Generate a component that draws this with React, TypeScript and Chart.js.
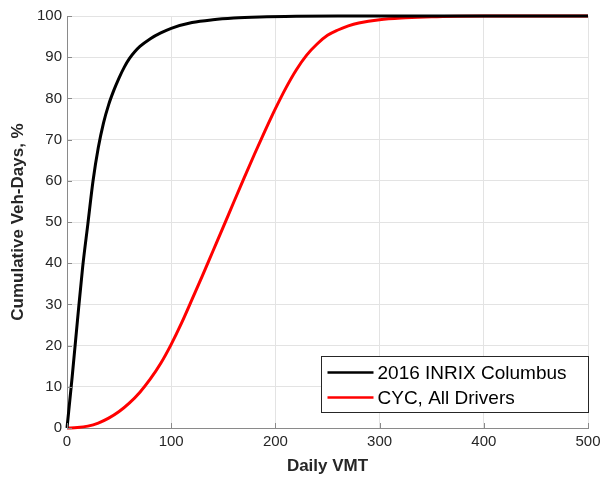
import React, { useEffect, useRef } from "react";
import { Chart, registerables } from "chart.js";

Chart.register(...registerables);

// ---- Data ----
const inrixX = [0, 5, 10, 15, 20, 25, 30, 35, 40, 45, 50, 55, 60, 65, 70, 80, 90, 100, 120, 140, 160, 185, 220, 260, 350, 500];
const inrixY = [0, 12.5, 26, 39, 49.5, 60, 68, 74, 78.5, 82, 85, 87.6, 89.7, 91.3, 92.6, 94.5, 95.9, 97, 98.4, 99.1, 99.5, 99.75, 99.92, 100, 100, 100];

const cycX = [0, 10, 20, 30, 40, 50, 60, 70, 80, 90, 100, 110, 120, 130, 140, 150, 160, 170, 180, 190, 200, 210, 220, 230, 240, 250, 260, 270, 280, 300, 325, 350, 375, 400, 450, 500];
const cycY = [0, 0.1, 0.45, 1.2, 2.4, 4, 6.1, 8.7, 11.9, 15.7, 20.3, 25.5, 31.2, 37, 42.9, 48.8, 54.8, 60.7, 66.5, 72.1, 77.5, 82.5, 86.9, 90.5, 93.2, 95.3, 96.6, 97.6, 98.3, 99.1, 99.55, 99.82, 99.95, 100, 100, 100];

const xTicks = [0, 100, 200, 300, 400, 500];
const yTicks = [0, 10, 20, 30, 40, 50, 60, 70, 80, 90, 100];

const seriesLabels = ["2016 INRIX Columbus", "CYC, All Drivers"];
const seriesColors = ["#000000", "#ff0000"];
const xTitle = "Daily VMT";
const yTitle = "Cumulative Veh-Days, %";

const FONT = "'Liberation Sans', Arial, Helvetica, sans-serif";
const TEXT = "#262626";
const AXIS = "#8a8a8a";
const GRID = "#e3e3e3";

const toPoints = (xs: number[], ys: number[]) => xs.map((x, i) => ({ x, y: ys[i] }));

const decorPlugin = {
  id: "decor",
  afterDatasetsDraw(chart: any) {
    const { ctx, chartArea, scales } = chart;
    const xs = scales.x;
    const ys = scales.y;
    ctx.save();
    // inward ticks
    ctx.strokeStyle = AXIS;
    ctx.lineWidth = 1;
    const tl = 5;
    ctx.beginPath();
    for (const v of xTicks) {
      const px = Math.round(xs.getPixelForValue(v)) + 0.5;
      ctx.moveTo(px, chartArea.bottom);
      ctx.lineTo(px, chartArea.bottom - tl);
    }
    for (const v of yTicks) {
      const py = Math.round(ys.getPixelForValue(v)) + 0.5;
      ctx.moveTo(chartArea.left, py);
      ctx.lineTo(chartArea.left + tl, py);
    }
    ctx.stroke();

    // legend
    const boxRight = chartArea.right;
    const boxW = 267;
    const boxH = 56;
    const boxBottom = chartArea.bottom - 16;
    const bx = Math.round(boxRight - boxW) + 0.5;
    const by = Math.round(boxBottom - boxH) + 0.5;
    ctx.fillStyle = "#ffffff";
    ctx.fillRect(bx, by, boxW, boxH);
    ctx.strokeStyle = TEXT;
    ctx.lineWidth = 1;
    ctx.strokeRect(bx, by, boxW, boxH);
    ctx.font = `19px ${FONT}`;
    ctx.textBaseline = "middle";
    ctx.textAlign = "left";
    seriesLabels.forEach((label, i) => {
      const cy = by + 16 + i * 25;
      ctx.strokeStyle = seriesColors[i];
      ctx.lineWidth = 2.5;
      ctx.beginPath();
      ctx.moveTo(bx + 6, cy);
      ctx.lineTo(bx + 52, cy);
      ctx.stroke();
      ctx.fillStyle = "#000000";
      ctx.fillText(label, bx + 56, cy + 1);
    });
    ctx.restore();
  },
};

export default function App() {
  const ref = useRef<HTMLCanvasElement | null>(null);

  useEffect(() => {
    if (!ref.current) return;
    const chart = new Chart(ref.current, {
      type: "line",
      data: {
        datasets: [
          {
            label: seriesLabels[0],
            data: toPoints(inrixX, inrixY),
            borderColor: seriesColors[0],
            borderWidth: 3,
            pointRadius: 0,
            cubicInterpolationMode: "monotone",
            clip: false,
          },
          {
            label: seriesLabels[1],
            data: toPoints(cycX, cycY),
            borderColor: seriesColors[1],
            borderWidth: 3,
            pointRadius: 0,
            cubicInterpolationMode: "monotone",
            clip: false,
          },
        ] as any,
      },
      options: {
        responsive: false,
        animation: false,
        devicePixelRatio: 1,
        layout: { padding: { left: 0, top: 16, right: 12, bottom: 0 } },
        plugins: {
          legend: { display: false },
          tooltip: { enabled: false },
        },
        scales: {
          x: {
            type: "linear",
            min: 0,
            max: 500,
            afterBuildTicks: (s: any) => {
              s.ticks = xTicks.map((v) => ({ value: v }));
            },
            afterFit: (s: any) => {
              s.height = 53;
              s.paddingLeft = 0;
              s.paddingRight = 0;
            },
            grid: { color: GRID, drawTicks: false },
            border: { display: true, color: AXIS, width: 1 },
            ticks: { color: TEXT, font: { family: FONT, size: 15 }, padding: 5, maxRotation: 0 },
            title: {
              display: true,
              text: xTitle,
              color: TEXT,
              font: { family: FONT, size: 17, weight: "bold" },
              padding: { top: 0, bottom: 4 },
            },
          },
          y: {
            type: "linear",
            min: 0,
            max: 100,
            afterBuildTicks: (s: any) => {
              s.ticks = yTicks.map((v) => ({ value: v }));
            },
            afterFit: (s: any) => {
              s.width = 67;
              s.paddingTop = 0;
              s.paddingBottom = 0;
            },
            grid: { color: GRID, drawTicks: false },
            border: { display: true, color: AXIS, width: 1 },
            ticks: { color: TEXT, font: { family: FONT, size: 15 }, padding: 5 },
            title: {
              display: true,
              text: yTitle,
              color: TEXT,
              font: { family: FONT, size: 17, weight: "bold" },
              padding: { top: 8, bottom: 0 },
            },
          },
        },
      },
      plugins: [decorPlugin],
    } as any);
    return () => chart.destroy();
  }, []);

  return (
    <div style={{ position: "absolute", left: 0, top: 0, width: 600, height: 481, background: "#fff" }}>
      <canvas ref={ref} width={600} height={481} style={{ width: 600, height: 481, display: "block" }} />
    </div>
  );
}
